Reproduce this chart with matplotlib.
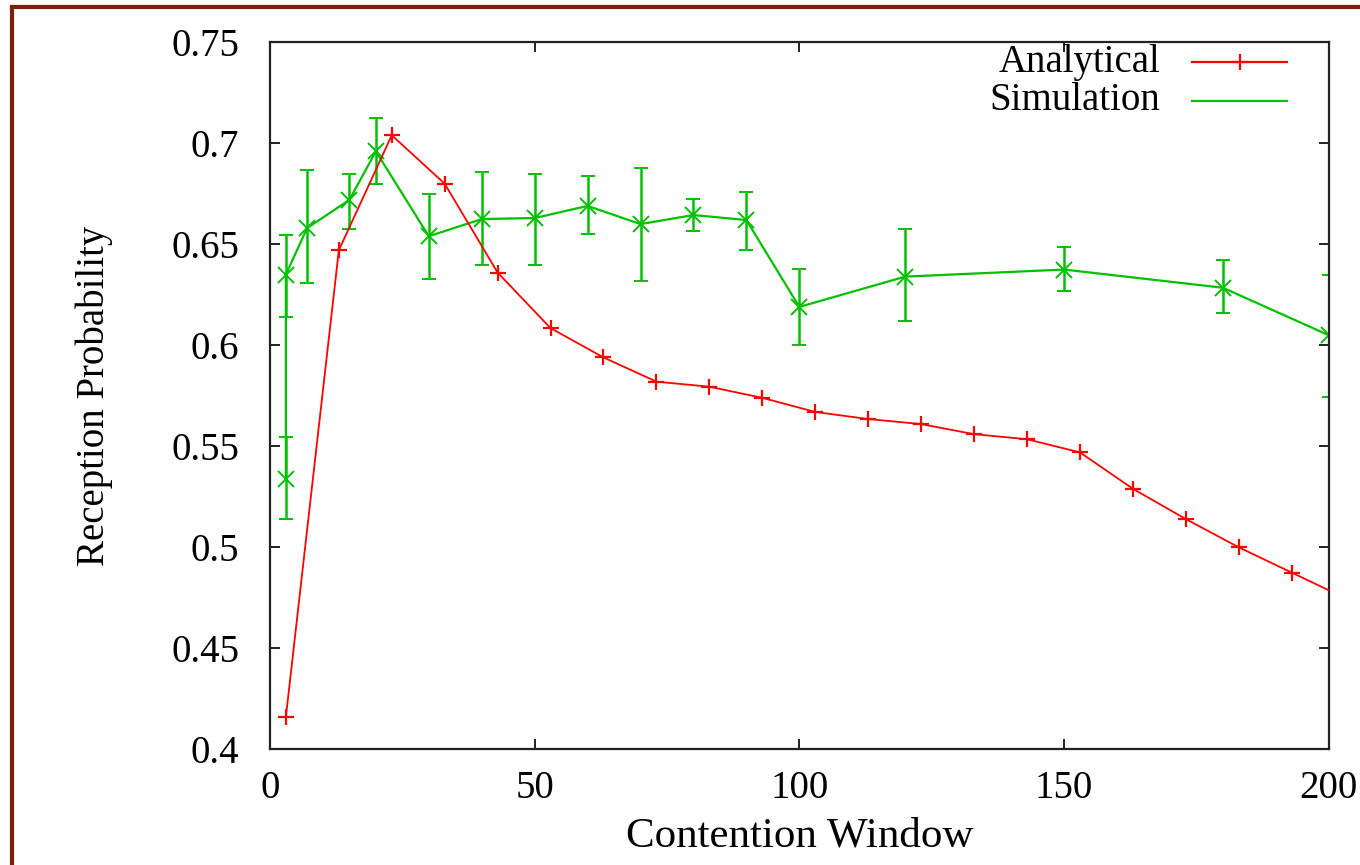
import matplotlib
matplotlib.use("Agg")
import matplotlib.pyplot as plt
from matplotlib.lines import Line2D

# ---- data ----
ana_x = [3, 13, 23, 33, 43, 53, 63, 73, 83, 93, 103, 113, 123, 133, 143, 153, 163, 173, 183, 193, 203]
ana_y = [0.416, 0.647, 0.704, 0.680, 0.636, 0.6085, 0.594, 0.582, 0.5795, 0.574, 0.567,
         0.5635, 0.561, 0.556, 0.5535, 0.547, 0.529, 0.514, 0.500, 0.4875, 0.475]

sim_x = [3, 3, 7, 15, 20, 30, 40, 50, 60, 70, 80, 90, 100, 120, 150, 180, 200]
sim_y = [0.534, 0.635, 0.658, 0.672, 0.696, 0.654, 0.6625, 0.663, 0.669, 0.660, 0.6645,
         0.662, 0.619, 0.634, 0.6375, 0.6285, 0.605]
sim_lo = [0.514, 0.614, 0.631, 0.6575, 0.680, 0.633, 0.640, 0.640, 0.655, 0.632, 0.6565,
          0.647, 0.600, 0.612, 0.627, 0.616, 0.5745]
sim_hi = [0.5545, 0.6545, 0.687, 0.685, 0.7125, 0.675, 0.686, 0.685, 0.684, 0.688, 0.6725,
          0.676, 0.638, 0.6575, 0.6485, 0.642, 0.635]

x_ticks = [0, 50, 100, 150, 200]
y_ticks = [0.4, 0.45, 0.5, 0.55, 0.6, 0.65, 0.7, 0.75]
y_tick_labels = ["0.4", "0.45", "0.5", "0.55", "0.6", "0.65", "0.7", "0.75"]

series_names = ["Analytical", "Simulation"]
RED = "#ff0000"
GREEN = "#00c000"

plt.rcParams['font.family'] = ['Liberation Serif', 'DejaVu Serif']
FS = 28

fig = plt.figure(figsize=(13.6, 8.65), dpi=100)
ax = fig.add_axes([270/1360, 1 - 749.3/865, (1328.7-270)/1360, (749.3-42.3)/865])

ax.plot(ana_x, ana_y, color=RED, lw=1.3, marker='+', ms=11, mew=1.6, zorder=3)

yerr = [[y - lo for y, lo in zip(sim_y, sim_lo)], [hi - y for y, hi in zip(sim_y, sim_hi)]]
ax.errorbar(sim_x, sim_y, yerr=yerr, color=GREEN, lw=1.6, elinewidth=1.8, capsize=5,
            capthick=1.8, marker='x', ms=11, mew=1.4, zorder=2)

ax.set_xlim(0, 200)
ax.set_ylim(0.4, 0.75)
ax.set_xticks(x_ticks)
ax.set_xticklabels([str(v) for v in x_ticks])
ax.set_yticks(y_ticks)
ax.set_yticklabels(y_tick_labels)
ax.tick_params(direction='in', length=7, width=1.4, labelsize=FS,
               top=True, right=True, color='#222222')
ax.tick_params(axis='y', pad=22)
ax.tick_params(axis='x', pad=15)
for s in ax.spines.values():
    s.set_linewidth(1.6)
    s.set_color('#222222')

ax.set_xlabel("Contention Window", fontsize=FS + 3, labelpad=7)
ax.set_ylabel("Reception Probability", fontsize=FS, labelpad=42)

# legend (drawn manually, gnuplot style)
leg_y = [0.972, 0.917]
leg_col = [RED, GREEN]
for name, yy, c, mk in zip(series_names, leg_y, leg_col, ['+', None]):
    ax.text(0.8407, yy, name, transform=ax.transAxes, ha='right', va='center', fontsize=FS)
    ax.add_line(Line2D([0.871, 0.9606], [yy, yy], transform=ax.transAxes, color=c, lw=1.6))
    if mk:
        ax.add_line(Line2D([(0.871 + 0.9606) / 2], [yy], transform=ax.transAxes, color=c,
                           marker=mk, ms=11, mew=1.6, ls='none'))

# dark red frame (top and left edges)
bc = "#7a2008"
fig.add_artist(Line2D([12/1360, 12/1360], [0, 1 - 7/865], transform=fig.transFigure, color=bc, lw=3))
fig.add_artist(Line2D([12/1360, 1], [1 - 7/865, 1 - 7/865], transform=fig.transFigure, color=bc, lw=3))

fig.savefig("out.png", dpi=100)
